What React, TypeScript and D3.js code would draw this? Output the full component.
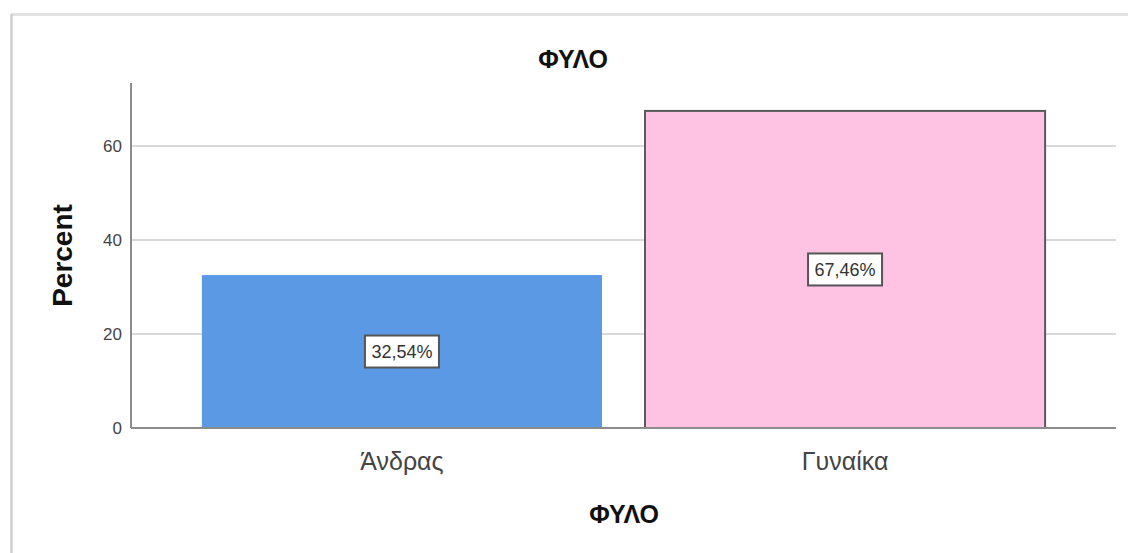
import * as d3 from 'd3';

const categories = ['Άνδρας', 'Γυναίκα'];
const percents = [32.54, 67.46];
const valueLabels = ['32,54%', '67,46%'];
const barColors = ['#5b99e5', '#fec3e2'];
const barStrokes = ['none', '#5a5a5a'];
const yTicks = [0, 20, 40, 60];

const W = 1128;
const H = 553;
const plot = { left: 131, right: 1116, top: 83, bottom: 428 };
const font = 'Arial, "Liberation Sans", sans-serif';

export default function App() {
  const x = d3
    .scaleBand<string>()
    .domain(categories)
    .range([plot.left, plot.right])
    .paddingInner(0.097)
    .paddingOuter(0.16);

  const y = d3.scaleLinear().domain([0, 73.4]).range([plot.bottom, plot.top]);

  return (
    <div style={{ position: 'absolute', left: 0, top: 0 }}>
      <svg width={W} height={H} viewBox={`0 0 ${W} ${H}`} style={{ display: 'block' }}>
        <rect x={0} y={0} width={W} height={H} fill="#fff" />
        {/* Frame */}
        <line x1={11} x2={W} y1={14.5} y2={14.5} stroke="#e2e2e2" strokeWidth={3} />
        <line x1={11.5} x2={11.5} y1={14} y2={H} stroke="#cfcfcf" strokeWidth={2.5} />

        {/* Title */}
        <text x={573} y={68} textAnchor="middle" fontFamily={font} fontWeight="bold" fontSize={25} fill="#111">
          ΦΥΛΟ
        </text>

        {/* Grid */}
        {yTicks.slice(1).map((t) => (
          <line key={t} x1={plot.left} x2={plot.right} y1={y(t)} y2={y(t)} stroke="#d9d9d9" strokeWidth={2} />
        ))}

        {/* Bars */}
        {categories.map((c, i) => (
          <rect
            key={c}
            x={x(c)}
            y={y(percents[i])}
            width={x.bandwidth()}
            height={y(0) - y(percents[i])}
            fill={barColors[i]}
            stroke={barStrokes[i]}
            strokeWidth={2}
          />
        ))}

        {/* Axes */}
        <line x1={plot.left} x2={plot.left} y1={plot.top} y2={plot.bottom} stroke="#8c8c8c" strokeWidth={2} />
        <line x1={plot.left} x2={plot.right} y1={plot.bottom} y2={plot.bottom} stroke="#8c8c8c" strokeWidth={2} />

        {yTicks.map((t) => (
          <text
            key={t}
            x={122}
            y={y(t)}
            dy="0.35em"
            textAnchor="end"
            fontFamily={font}
            fontSize={17}
            fill="#444"
          >
            {t}
          </text>
        ))}

        {/* Value labels */}
        {categories.map((c, i) => {
          const cx = (x(c) ?? 0) + x.bandwidth() / 2;
          const cy = y(percents[i] / 2);
          return (
            <g key={c} transform={`translate(${cx},${cy})`}>
              <rect x={-37} y={-16} width={74} height={32} fill="#fff" stroke="#555" strokeWidth={2} />
              <text textAnchor="middle" dy="0.36em" fontFamily={font} fontSize={18} fill="#333">
                {valueLabels[i]}
              </text>
            </g>
          );
        })}

        {/* Category labels */}
        {categories.map((c) => (
          <text
            key={c}
            x={(x(c) ?? 0) + x.bandwidth() / 2}
            y={470}
            textAnchor="middle"
            fontFamily={font}
            fontSize={25}
            fill="#444"
          >
            {c}
          </text>
        ))}

        {/* Axis titles */}
        <text x={624} y={523} textAnchor="middle" fontFamily={font} fontWeight="bold" fontSize={25} fill="#111">
          ΦΥΛΟ
        </text>
        <text
          transform={`translate(72,${(plot.top + plot.bottom) / 2}) rotate(-90)`}
          textAnchor="middle"
          fontFamily={font}
          fontWeight="bold"
          fontSize={28}
          fill="#111"
        >
          Percent
        </text>
      </svg>
    </div>
  );
}
